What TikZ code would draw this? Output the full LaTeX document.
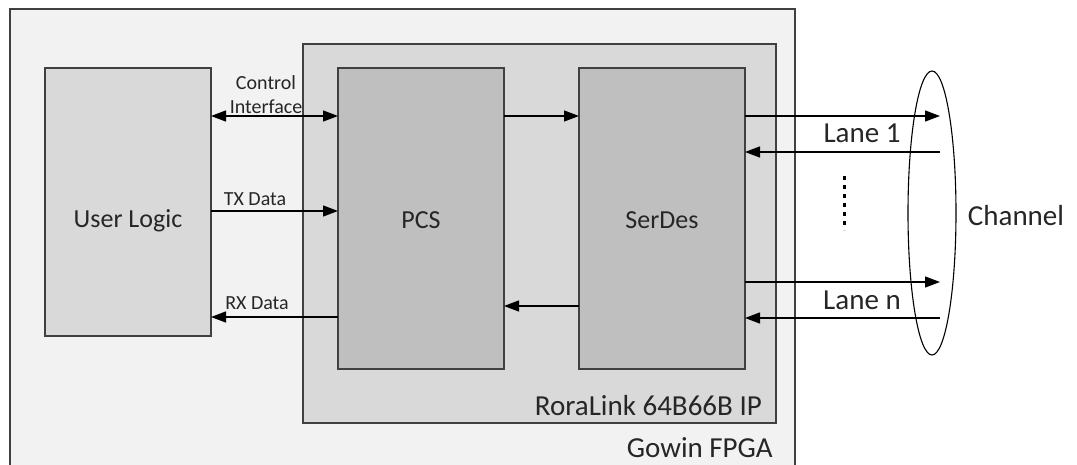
\documentclass[tikz,border=0pt]{standalone}
\usepackage{fontspec}
\setmainfont{Carlito}
\usetikzlibrary{arrows.meta,shapes.geometric}
\definecolor{fpgafill}{HTML}{F2F2F2}
\definecolor{ipfill}{HTML}{D9D9D9}
\definecolor{blkfill}{HTML}{BFBFBF}
\definecolor{edge}{HTML}{404040}
\definecolor{txt}{HTML}{262626}
\tikzset{
  box/.style={draw=edge, line width=1.3pt, anchor=north west, inner sep=0pt, outer sep=0pt},
  big/.style={font=\fontsize{26}{30}\selectfont, text=txt, inner sep=0pt},
  huge/.style={font=\fontsize{29}{33}\selectfont, text=txt, inner sep=0pt},
  small/.style={font=\fontsize{20}{24}\selectfont, text=txt, inner sep=0pt},
  conn/.style={line width=1.3pt, black, -{Triangle[length=15pt,width=11pt]}},
  biconn/.style={line width=1.3pt, black, {Triangle[length=15pt,width=11pt]}-{Triangle[length=15pt,width=11pt]}},
}
\begin{document}
\begin{tikzpicture}[x=1pt,y=-1pt]
\useasboundingbox (0,0) rectangle (1077,465);
\clip (0,0) rectangle (1077,465);
% Gowin FPGA
\node[box, fill=fpgafill, minimum width=785, minimum height=480] (fpga) at (10,9) {};
% RoraLink IP
\node[box, fill=ipfill, minimum width=473, minimum height=379] (ip) at (303,44) {};
% blocks
\node[box, fill=ipfill, minimum width=166, minimum height=268] (ul) at (45,68) {};
\node[box, fill=blkfill, minimum width=166, minimum height=301] (pcs) at (338,68) {};
\node[box, fill=blkfill, minimum width=166, minimum height=301] (sd) at (579,68) {};
% labels
\node[big] (ult) at (128,221) {User Logic};
\node[big] (pcst) at (421,220) {PCS};
\node[big] (sdt) at (662,220) {SerDes};
\node[huge, anchor=east] (ipt) at (762,406) {RoraLink 64B66B IP};
\node[huge, anchor=east] (fpgat) at (773,448) {Gowin FPGA};
% channel
\node[draw=black, line width=1.1pt, ellipse, minimum width=48, minimum height=284, inner sep=0pt] (ch) at (932,213) {};
\node[huge] (cht) at (1016,216) {Channel};
% y levels
\coordinate (yci) at (0,116);
\coordinate (ytx) at (0,211);
\coordinate (yrx) at (0,317);
\coordinate (yps) at (0,306);
\coordinate (yl1o) at (0,116);
\coordinate (yl1i) at (0,152);
\coordinate (ylno) at (0,282);
\coordinate (ylni) at (0,318);
\coordinate (lo1) at (940,116);
\coordinate (li1) at (940,152);
\coordinate (lon) at (940,282);
\coordinate (lin) at (940,318);
% connectors
\draw[biconn] (ul.east |- yci) -- (pcs.west |- yci);
\draw[conn] (ul.east |- ytx) -- (pcs.west |- ytx);
\draw[conn] (pcs.west |- yrx) -- (ul.east |- yrx);
\draw[conn] (pcs.east |- yci) -- (sd.west |- yci);
\draw[conn] (sd.west |- yps) -- (pcs.east |- yps);
\draw[conn] (sd.east |- yl1o) -- (lo1);
\draw[conn] (li1) -- (sd.east |- yl1i);
\draw[conn] (sd.east |- ylno) -- (lon);
\draw[conn] (lin) -- (sd.east |- ylni);
% connector labels
\node[small, align=center] (cit) at (266,95) {Control\\Interface};
\node[small] (txt1) at (255,199) {TX Data};
\node[small] (rxt) at (257,303) {RX Data};
\node[huge] (l1t) at (862,133) {Lane 1};
\node[huge] (lnt) at (862,300) {Lane n};
% dots
\coordinate (dtop) at (844,176);
\coordinate (dbot) at (844,230);
\draw[line width=3pt, dash pattern=on 4pt off 5pt] (dtop) -- (dbot);
\end{tikzpicture}
\end{document}
